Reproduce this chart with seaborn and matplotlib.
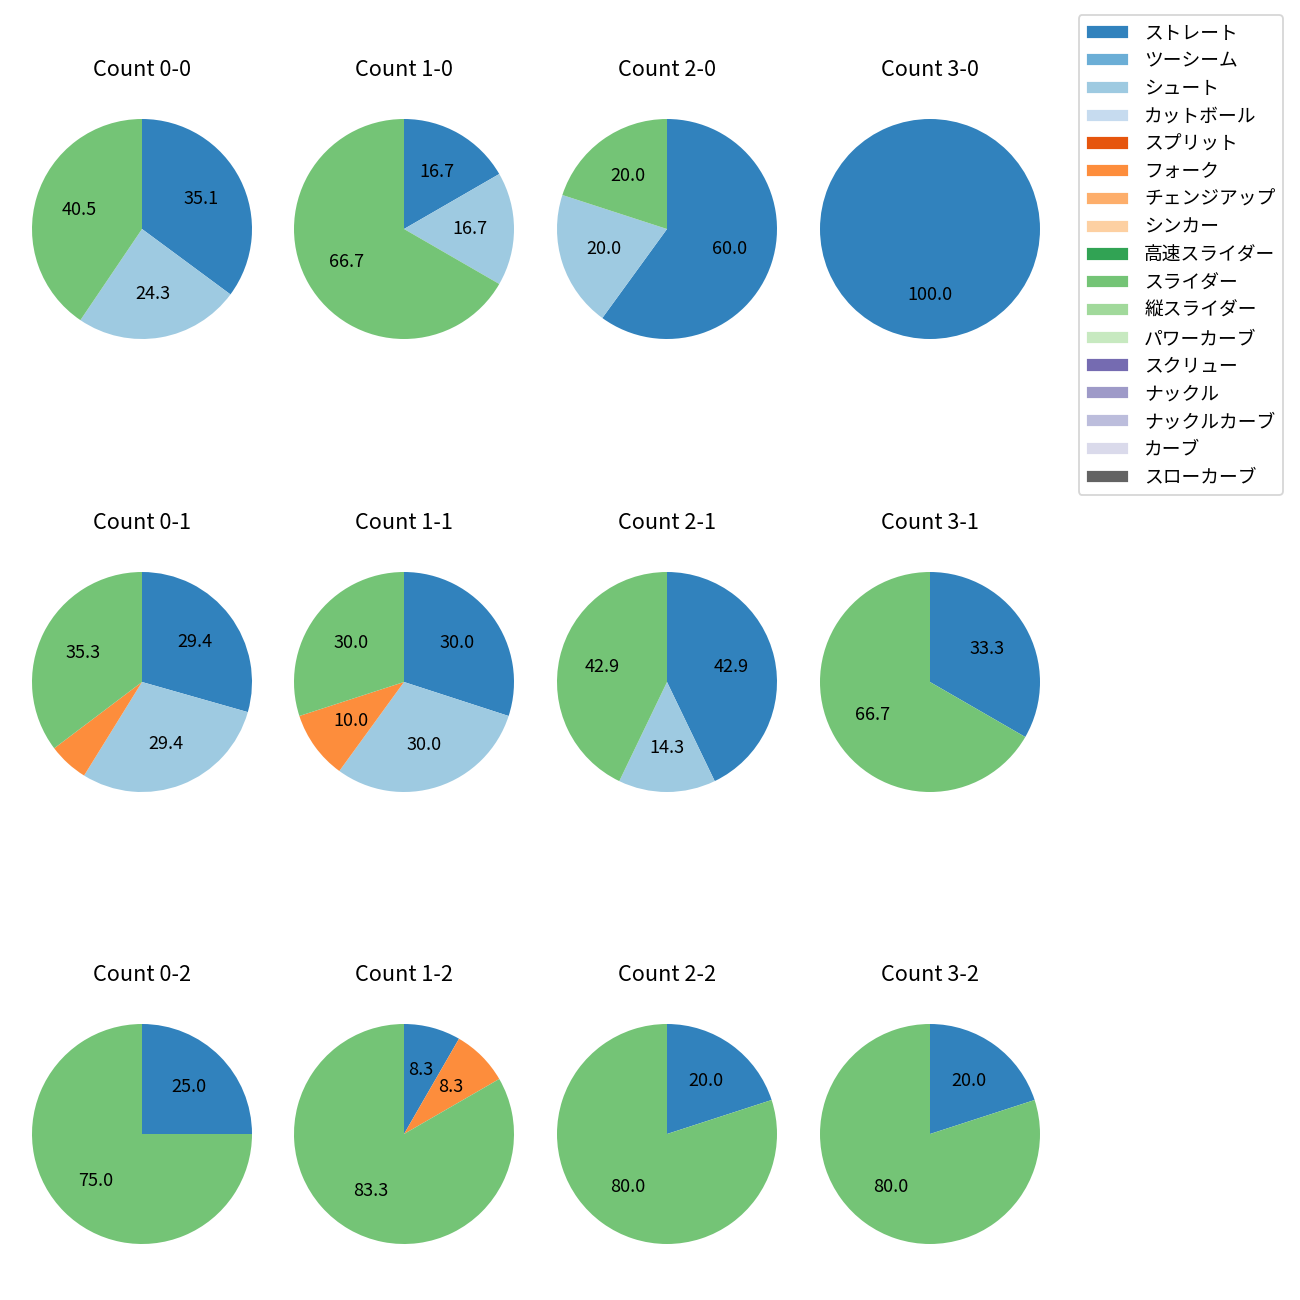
import matplotlib
matplotlib.use("Agg")
import matplotlib.pyplot as plt
from matplotlib.patches import Patch
import seaborn as sns

sns.set_style("white")
plt.rcParams['font.family'] = ['Noto Sans CJK JP', 'DejaVu Sans']
plt.rcParams['text.color'] = 'black'

pitch_types = ["ストレート", "ツーシーム", "シュート", "カットボール", "スプリット", "フォーク",
               "チェンジアップ", "シンカー", "高速スライダー", "スライダー", "縦スライダー",
               "パワーカーブ", "スクリュー", "ナックル", "ナックルカーブ", "カーブ", "スローカーブ"]

count_labels = ["0-0", "1-0", "2-0", "3-0",
                "0-1", "1-1", "2-1", "3-1",
                "0-2", "1-2", "2-2", "3-2"]

# pitch counts per ball-strike count, keyed by pitch type index
straight = [13, 1, 3, 1, 5, 3, 3, 1, 1, 1, 1, 1]
shoot    = [9, 1, 1, 0, 5, 3, 1, 0, 0, 0, 0, 0]
fork     = [0, 0, 0, 0, 1, 1, 0, 0, 0, 1, 0, 0]
slider   = [15, 4, 1, 0, 6, 3, 3, 2, 3, 10, 4, 4]

series = {0: straight, 2: shoot, 5: fork, 9: slider}

colors = sns.color_palette("tab20c", 20)[:17]

fig = plt.figure(figsize=(10, 10), dpi=130)

xc = [142, 404, 667, 930]
yc = [229, 682, 1134]
W = 1300.0
size = 275.0

def fmt(p):
    return "%.1f" % p if p >= 7 else ""

for i, lab in enumerate(count_labels):
    r, c = divmod(i, 4)
    ax = fig.add_axes([(xc[c] - size / 2) / W, 1 - (yc[r] + size / 2) / W, size / W, size / W])
    vals, cols = [], []
    for k in sorted(series):
        v = series[k][i]
        if v > 0:
            vals.append(v)
            cols.append(colors[k])
    ax.pie(vals, colors=cols, startangle=90, counterclock=False, autopct=fmt,
           wedgeprops={'linewidth': 0},
           textprops={'fontsize': 10, 'color': 'black'})
    ax.set_title("Count " + lab, fontsize=12, pad=8.5)

handles = [Patch(facecolor=colors[k], label=pitch_types[k]) for k in range(len(pitch_types))]
fig.legend(handles=handles, loc='upper right', bbox_to_anchor=(1283 / W, 1 - 15 / W),
           borderaxespad=0, fontsize=10.4, handlelength=2.3, labelspacing=0.36)

fig.savefig("out.png", dpi=130)
